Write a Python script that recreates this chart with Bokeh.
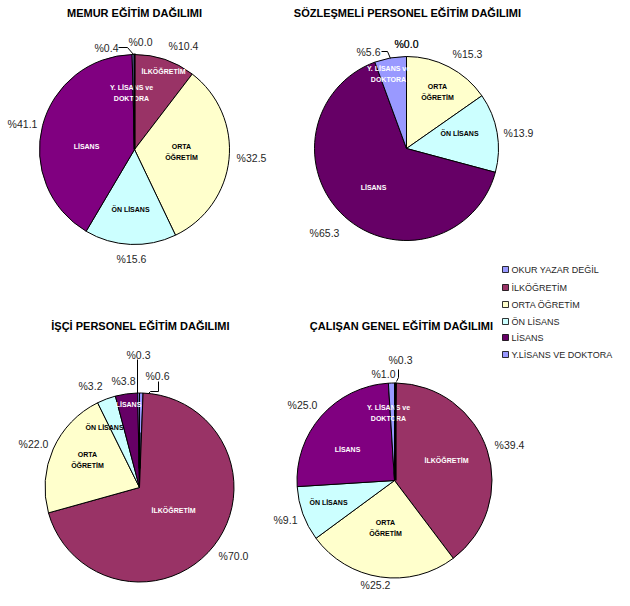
import math
from bokeh.plotting import figure
from bokeh.models import Range1d
from bokeh.core.properties import value
from bokeh.embed import file_html
from bokeh.resources import INLINE

# ---------------- data ----------------
categories = ["OKUR YAZAR DEĞİL", "İLKÖĞRETİM", "ORTA ÖĞRETİM",
              "ÖN LİSANS", "LİSANS", "Y.LİSANS VE DOKTORA"]
slice_names = [None, "İLKÖĞRETİM", "ORTA\nÖĞRETİM", "ÖN LİSANS", "LİSANS",
               "Y. LİSANS ve\nDOKTORA"]
titles = ["MEMUR EĞİTİM DAĞILIMI", "SÖZLEŞMELİ PERSONEL EĞİTİM DAĞILIMI",
          "İŞÇİ PERSONEL EĞİTİM DAĞILIMI", "ÇALIŞAN GENEL EĞİTİM DAĞILIMI"]
memur = [0.0, 10.4, 32.5, 15.6, 41.1, 0.4]
sozlesmeli = [0.0, 0.0, 15.3, 13.9, 65.3, 5.6]
isci = [0.6, 70.0, 22.0, 3.2, 3.8, 0.3]
genel = [0.3, 39.4, 25.2, 9.1, 25.0, 1.0]
series = [memur, sozlesmeli, isci, genel]

# ---------------- styles / layout (picture pixel coordinates) ----------------
base_colors = ["#9999FF", "#993366", "#FFFFCC", "#CCFFFF", "#660066", "#9999FF"]
name_colors = ["black", "white", "black", "black", "white", "white"]
FONT = "Liberation Sans"

layouts = [
    dict(c=(134, 149), r=95, title=(134, 12), lisans="#800080",
         pct=[(140, 41), (183, 45), (251, 157), (131, 258), (22, 123), (106, 47)],
         names=[None, (163, 71), (181, 151), (130, 209), (86, 146), (131, 92)],
         leaders=[[(118, 47), (127, 47), (133, 54)]],
         thick=[((134, 53), (134, 149))]),
    dict(c=(406, 148), r=92, title=(407, 12), lisans="#660066",
         pct=[(406, 43), (406, 43), (467, 53), (518, 132), (324, 232), (368, 51)],
         names=[None, None, (437, 91), (459, 133), (373, 187), (388, 73)],
         leaders=[[(381, 51), (387, 51), (390, 58)]],
         thick=[]),
    dict(c=(139, 487), r=94.5, title=(140, 325), lisans="#660066",
         pct=[(157, 375), (233, 555), (33, 443), (90, 385), (123, 380), (138, 354)],
         names=[None, (173, 510), (87, 459), (104, 427), (128, 404), None],
         leaders=[[(137, 359), (137, 393)],
                  [(158, 381), (158, 391), (150, 391), (148, 393)]],
         thick=[((139, 432), (139, 468))]),
    dict(c=(394, 480), r=97.5, title=(401, 325), lisans="#800080",
         pct=[(400, 359), (509, 444), (375, 584), (285, 519), (302, 404), (383, 373)],
         names=[None, (446, 460), (385, 527), (328, 502), (347, 449), (388, 412)],
         leaders=[[(398, 369), (398, 377), (396, 381)]],
         thick=[((395, 382), (395, 480))]),
]

legend_sq_x = 505
legend_txt_x = 511
legend_rows = [269, 287, 304, 321, 337, 354]

W, H = 614, 590


def X(px):
    return px


def Y(py):
    return H - py


p = figure(width=W, height=H, x_range=Range1d(0, W), y_range=Range1d(0, H),
           output_backend="svg", toolbar_location=None, min_border=0,
           x_axis_location=None, y_axis_location=None)
p.grid.visible = False
p.outline_line_color = None
p.background_fill_color = "white"
p.border_fill_color = "white"

for vals, lay, title in zip(series, layouts, titles):
    cx, cy = X(lay["c"][0]), Y(lay["c"][1])
    total = sum(vals)
    colors = list(base_colors)
    colors[4] = lay["lisans"]
    cum = 0.0
    xs, ys, starts, ends, fills = [], [], [], [], []
    for v, col in zip(vals, colors):
        f0 = cum / total
        cum += v
        f1 = cum / total
        if v <= 0:
            continue
        xs.append(cx)
        ys.append(cy)
        starts.append(math.pi / 2 - f0 * 2 * math.pi)
        ends.append(math.pi / 2 - f1 * 2 * math.pi)
        fills.append(col)
    p.wedge(x=xs, y=ys, radius=lay["r"], start_angle=starts, end_angle=ends,
            direction="clock", fill_color=fills, line_color="black", line_width=1)

    # slice names
    for nm, pos, nc in zip(slice_names, lay["names"], name_colors):
        if nm is None or pos is None:
            continue
        lines = nm.split("\n")
        n = len(lines)
        for i, ln in enumerate(lines):
            yy = pos[1] + (i - (n - 1) / 2) * 11
            p.text(x=[X(pos[0])], y=[Y(yy)], text=[ln], text_align="center",
                   text_baseline="middle", text_font=value(FONT),
                   text_font_size="7px", text_font_style="bold", text_color=nc)

    # thick black radius lines
    for (a, b) in lay["thick"]:
        p.line(x=[X(a[0]), X(b[0])], y=[Y(a[1]), Y(b[1])], line_color="black",
               line_width=2.2)

    # leader lines
    for ld in lay["leaders"]:
        p.line(x=[X(q[0]) for q in ld], y=[Y(q[1]) for q in ld],
               line_color="black", line_width=1)

    # percentage labels
    for v, pos in zip(vals, lay["pct"]):
        p.text(x=[X(pos[0])], y=[Y(pos[1])], text=["%" + f"{v:.1f}"],
               text_align="center", text_baseline="middle",
               text_font=value(FONT), text_font_size="10.5px",
               text_color="#1f1f1f")

    # title
    p.text(x=[X(lay["title"][0])], y=[Y(lay["title"][1])], text=[title],
           text_align="center", text_baseline="middle", text_font=value(FONT),
           text_font_size="11px", text_font_style="bold", text_color="black")

# legend
p.rect(x=[X(legend_sq_x)] * len(categories), y=[Y(r) for r in legend_rows],
       width=6, height=6, fill_color=base_colors, line_color="black",
       line_width=0.8)
p.text(x=[X(legend_txt_x)] * len(categories), y=[Y(r) for r in legend_rows],
       text=categories, text_align="left", text_baseline="middle",
       text_font=value(FONT), text_font_size="9px", text_color="#1f1f1f")

open("out.html", "w").write(file_html(p, INLINE))
